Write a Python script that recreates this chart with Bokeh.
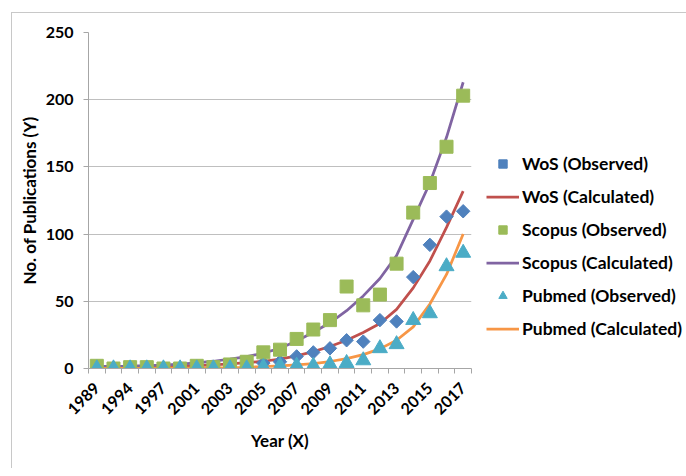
from math import pi
from bokeh.plotting import figure
from bokeh.models import Range1d, FixedTicker, Legend, LegendItem
from bokeh.embed import file_html
from bokeh.resources import INLINE

# ---- data ----
years = ["1989", "1992", "1994", "1996", "1997", "1999", "2001", "2002", "2003",
         "2004", "2005", "2006", "2007", "2008", "2009", "2010", "2011", "2012",
         "2013", "2014", "2015", "2016", "2017"]
wos_obs = [0, 0, 0, 0, 0, 0, 1, 0, 1, 1, 4, 5, 9, 12, 15, 21, 20, 36, 35, 68, 92, 113, 117]
wos_calc = [0.5, 0.6, 0.8, 1.0, 1.3, 1.7, 2.1, 2.7, 3.4, 4.3, 5.4, 7, 9.4, 12.6, 16.4,
            21, 26.8, 33.5, 44, 60, 80, 105, 132]
scopus_obs = [2, 0, 1, 1, 0, 0, 2, 1, 3, 5, 12, 14, 22, 29, 36, 61, 47, 55, 78, 116, 138, 165, 203]
scopus_calc = [1.5, 1.6, 1.8, 2.1, 2.6, 3.2, 4.2, 5.4, 6.9, 8.8, 11.5, 15, 20.5, 27, 34,
               43, 54, 67, 84, 111, 138, 172, 213]
pubmed_obs = [0, 0, 0, 0, 0, 0, 0, 0, 0, 0, 1, 2, 2, 2, 3, 4, 6, 15, 18, 36, 41, 76, 86]
pubmed_calc = [0.1, 0.1, 0.1, 0.1, 0.2, 0.2, 0.3, 0.4, 0.6, 0.9, 1.4, 2, 2.7, 3.7, 5.2,
               7.4, 10.3, 14.6, 21, 31, 48, 70, 100]
y_ticks = [0, 50, 100, 150, 200, 250]
series_names = ["WoS (Observed)", "WoS (Calculated)", "Scopus (Observed)",
                "Scopus (Calculated)", "Pubmed (Observed)", "Pubmed (Calculated)"]
x_title = "Year (X)"
y_title = "No. of Publications (Y)"

FONT = "Lato"
idx = list(range(len(years)))

p = figure(frame_width=383, frame_height=336,
           min_border_left=76, min_border_top=19, min_border_right=215, min_border_bottom=100,
           x_range=Range1d(-0.5, len(years) - 0.5), y_range=Range1d(0, 250),
           output_backend="svg", toolbar_location=None)
p.outline_line_color = None
p.background_fill_color = "white"
p.border_fill_color = "white"
# chart-area border: only its top and left edges are visible in the reference
p.styles = {"margin-left": "11px", "margin-top": "12px",
            "border-left": "1px solid #c8c8c8", "border-top": "1px solid #c8c8c8"}

# grid
p.xgrid.visible = False
p.ygrid.grid_line_color = "#bfbfbf"
p.ygrid.ticker = FixedTicker(ticks=y_ticks)

# y axis
ya = p.yaxis[0]
ya.ticker = FixedTicker(ticks=y_ticks, minor_ticks=[])
ya.axis_line_color = "#a6a6a6"
ya.major_tick_line_color = "#a6a6a6"
ya.major_tick_out = 5
ya.major_tick_in = 0
ya.minor_tick_line_color = None
ya.major_label_text_font = FONT
ya.major_label_text_font_style = "bold"
ya.major_label_text_font_size = "16px"
ya.major_label_text_color = "black"
ya.major_label_standoff = 10
ya.axis_label = y_title
ya.axis_label_text_font = FONT
ya.axis_label_text_font_style = "bold"
ya.axis_label_text_font_size = "17px"
ya.axis_label_text_color = "black"
ya.axis_label_standoff = 3

# x axis: category labels on every other year, ticks on category boundaries
xa = p.xaxis[0]
xa.ticker = FixedTicker(ticks=idx[::2], minor_ticks=[i - 0.5 for i in range(len(years) + 1)])
xa.major_label_overrides = {i: years[i] for i in idx[::2]}
xa.axis_line_color = "#a6a6a6"
xa.major_tick_line_color = None
xa.major_tick_out = 0
xa.major_tick_in = 0
xa.minor_tick_line_color = "#a6a6a6"
xa.minor_tick_out = 5
xa.minor_tick_in = 0
xa.major_label_orientation = pi / 4
xa.major_label_text_font = FONT
xa.major_label_text_font_style = "bold"
xa.major_label_text_font_size = "16px"
xa.major_label_text_color = "black"
xa.major_label_standoff = 12
xa.axis_label = x_title
xa.axis_label_text_font = FONT
xa.axis_label_text_font_style = "bold"
xa.axis_label_text_font_size = "17px"
xa.axis_label_text_color = "black"
xa.axis_label_standoff = 7

LW = 2.75
r_wc = p.line(idx, wos_calc, line_color="#C0504D", line_width=LW)
r_sc = p.line(idx, scopus_calc, line_color="#8064A2", line_width=LW)
r_pc = p.line(idx, pubmed_calc, line_color="#F79646", line_width=LW)
r_wo = p.scatter(idx, wos_obs, marker="square", angle=pi / 4, size=9.5,
                 fill_color="#4F81BD", line_color="#4F81BD")
r_so = p.scatter(idx, scopus_obs, marker="square", size=13,
                 fill_color="#9BBB59", line_color="#9BBB59")
r_po = p.scatter(idx, pubmed_obs, marker="triangle", size=15,
                 fill_color="#4BACC6", line_color="#4BACC6")

legend = Legend(items=[
    LegendItem(label=series_names[0], renderers=[r_wo]),
    LegendItem(label=series_names[1], renderers=[r_wc]),
    LegendItem(label=series_names[2], renderers=[r_so]),
    LegendItem(label=series_names[3], renderers=[r_sc]),
    LegendItem(label=series_names[4], renderers=[r_po]),
    LegendItem(label=series_names[5], renderers=[r_pc]),
], location=(15, 29))
legend.padding = 0
legend.margin = 0
legend.spacing = 12
legend.glyph_width = 33
legend.glyph_height = 21
legend.label_height = 21
legend.label_standoff = 3
legend.border_line_color = None
legend.background_fill_color = None
legend.label_text_font = FONT
legend.label_text_font_style = "bold"
legend.label_text_font_size = "17.5px"
legend.label_text_color = "black"
p.add_layout(legend, "right")

open("out.html", "w").write(file_html(p, INLINE))
